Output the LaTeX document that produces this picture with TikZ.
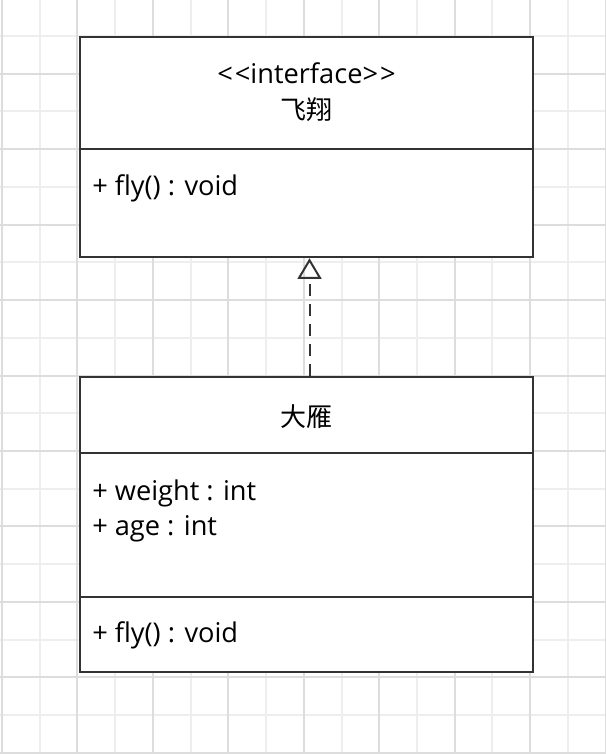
\documentclass[tikz,border=0pt]{standalone}
\usepackage{fontspec}
\setmainfont{Open Sans}
\newfontfamily\cjk{Noto Sans CJK SC}
\usetikzlibrary{arrows.meta,fit}
\definecolor{gridminor}{HTML}{EEEEEE}
\definecolor{gridmajor}{HTML}{DDDDDD}
\definecolor{stroke}{HTML}{333333}
\definecolor{ink}{HTML}{000000}
\begin{document}
\begin{tikzpicture}[x=0.75pt,y=-0.75pt,
  umlbox/.style={draw=stroke,line width=1.9pt,fill=white,inner sep=0pt},
  divider/.style={draw=stroke,line width=1.9pt},
  txt/.style={inner sep=0pt,text=ink,font=\fontsize{20.4pt}{26pt}\selectfont},
  cjktxt/.style={inner sep=0pt,text=ink,font=\fontsize{19.5pt}{26pt}\selectfont\cjk},
  realize/.style={draw=stroke,line width=1.5pt,dash pattern=on 9pt off 6pt,
    -{Triangle[open,width=18pt,length=15.5pt,line width=1.5pt]}}
]
\useasboundingbox (0,0) rectangle (606,754);
\fill[white] (0,0) rectangle (606,754);
% grid
\foreach \k in {0,...,16}{
  \pgfmathsetmacro{\xx}{2+37.73*\k}
  \ifodd\k
    \draw[gridminor,line width=1.5pt] (\xx,0) -- (\xx,754);
  \fi}
\foreach \k in {-1,...,19}{
  \pgfmathsetmacro{\yy}{36+37.73*\k}
  \ifodd\k\else
    \draw[gridminor,line width=1.5pt] (0,\yy) -- (606,\yy);
  \fi}
\foreach \k in {0,...,16}{
  \pgfmathsetmacro{\xx}{2+37.73*\k}
  \ifodd\k\else
    \draw[gridmajor,line width=1.5pt] (\xx,0) -- (\xx,754);
  \fi}
\foreach \k in {-1,...,19}{
  \pgfmathsetmacro{\yy}{36+37.73*\k}
  \ifodd\k
    \draw[gridmajor,line width=1.5pt] (0,\yy) -- (606,\yy);
  \fi}
% interface box
\coordinate (i1) at (80,37);
\coordinate (i2) at (533,257);
\node[umlbox,fit=(i1)(i2)] (iface) {};
\coordinate (id1) at (80,149);
\coordinate (id2) at (533,149);
\draw[divider] (id1) -- (id2);
\node[txt,anchor=base] (stereo) at (306.5,83) {<\kern1.5pt<interface>\kern1.5pt>};
\node[cjktxt,anchor=base] (ifname) at (306.5,119) {飞翔};
\node[txt,anchor=base west] (ifop) at (92,195) {+ fly() : void};
% class box
\coordinate (g1) at (80,377);
\coordinate (g2) at (533,672);
\node[umlbox,fit=(g1)(g2)] (goose) {};
\coordinate (gd1) at (80,453);
\coordinate (gd2) at (533,453);
\coordinate (gd3) at (80,597);
\coordinate (gd4) at (533,597);
\draw[divider] (gd1) -- (gd2);
\draw[divider] (gd3) -- (gd4);
\node[cjktxt,anchor=base] (gname) at (306.5,426) {大雁};
\node[txt,anchor=base west] (gattr1) at (92,500) {+ weight : int};
\node[txt,anchor=base west] (gattr2) at (92,535) {+ age : int};
\node[txt,anchor=base west] (gop) at (92,642) {+ fly() : void};
% realization
\draw[realize] ([xshift=2.25pt]goose.north) -- ([xshift=2.25pt]iface.south);
\end{tikzpicture}
\end{document}
